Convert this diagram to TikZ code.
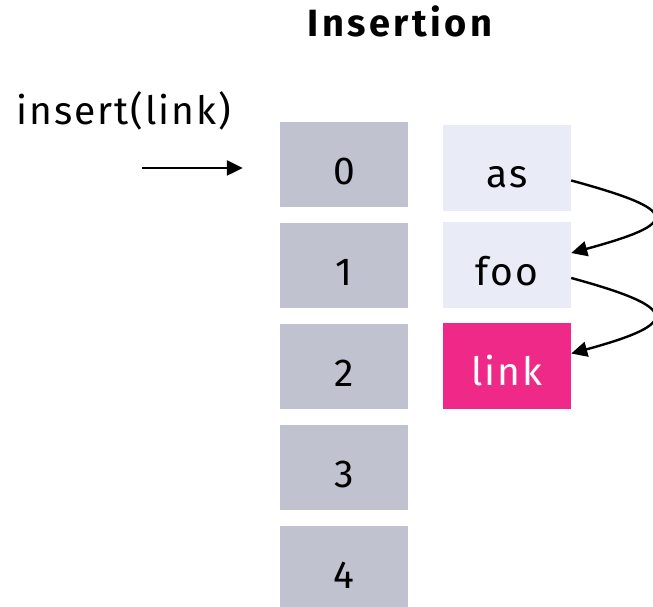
\documentclass[tikz,border=0pt]{standalone}
\usepackage{fontspec}
\setmainfont{Fira Sans}[LetterSpace=5]
\newfontfamily\titlefont{Fira Sans}[LetterSpace=9]
\usetikzlibrary{arrows.meta}

\definecolor{slotgray}{RGB}{192,194,208}
\definecolor{entrylight}{RGB}{233,235,247}
\definecolor{entrypink}{RGB}{238,41,136}

\begin{document}
\begin{tikzpicture}[x=1pt, y=1pt, every node/.style={font=\fontsize{39}{46}\selectfont},
    slot/.style={rectangle, fill=slotgray, minimum width=128pt, minimum height=85pt, inner sep=0pt,
        text height=40pt, text depth=0pt},
    entry/.style={rectangle, fill=entrylight, minimum width=128pt, minimum height=86pt, inner sep=0pt,
        text height=40pt, text depth=0pt},
    link/.style={-{Triangle[length=16pt, width=15pt]}, line width=2.4pt}]
    \useasboundingbox (0,0) rectangle (653,607);

    % title
    \node[font=\titlefont\fontsize{38}{44}\selectfont\bfseries, anchor=base] (title) at (400,570) {Insertion};

    % buckets
    \foreach \i in {0,...,4}
        \node[slot] (b\i) at (344,442.5-101*\i) {\i};

    % chained entries
    \node[entry] (e0) at (507,439) {as};
    \node[entry] (e1) at (507,341.5) {foo};
    \node[entry, fill=entrypink, text=white] (e2) at (507,241) {link};

    % call
    \node[anchor=base] (call) at (124,482) {insert(link)};
    \coordinate (inptr) at (142,439);
    \draw[link, shorten >=37pt] (inptr) -- (inptr -| b0.west);

    % next pointers
    \draw[link] (e0.-11) .. controls +(110,-30) and +(110,30) .. (e1.11);
    \draw[link] (e1.-11) .. controls +(110,-30) and +(110,30) .. (e2.11);
\end{tikzpicture}
\end{document}
